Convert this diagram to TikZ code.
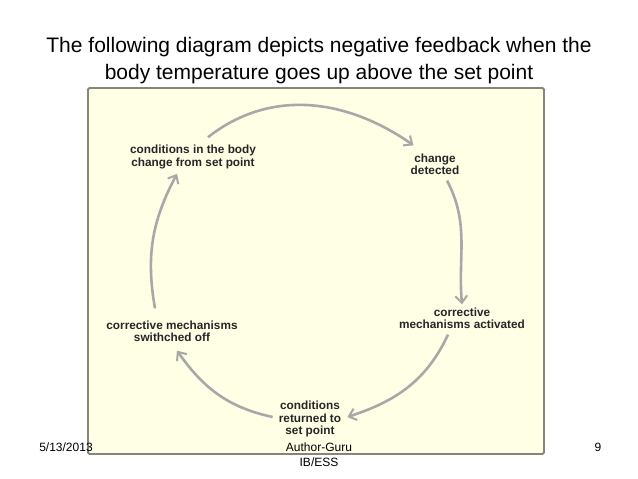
\documentclass[tikz,border=0pt]{standalone}
\usepackage{fontspec}
\setmainfont{Liberation Sans}
\usetikzlibrary{arrows.meta}
\definecolor{PanelFill}{HTML}{FFFFE6}
\definecolor{PanelEdge}{HTML}{85857A}
\definecolor{LoopGrey}{HTML}{A8A8A8}
\tikzset{
  stage/.style={align=center,inner sep=4pt,font=\fontsize{11.8}{12.2}\selectfont\bfseries,text=black!85},
  flow/.style={LoopGrey,line width=2.6pt,-{Straight Barb[length=7pt,width=12pt,line width=2pt]}},
  foot/.style={font=\fontsize{12}{15}\selectfont,inner sep=0pt}
}

\begin{document}
\begin{tikzpicture}[x=1pt,y=1pt]
  \useasboundingbox (0,0) rectangle (638,479);
  \node[align=center,font=\fontsize{21}{27}\selectfont] (title) at (319,418)
    {The following diagram depicts negative feedback when the\\body temperature goes up above the set point};
  \draw[PanelEdge,line width=1.8pt,fill=PanelFill,rounded corners=1.5pt] (88,25) rectangle (544,391);
  \node[stage] (chg) at (193,322) {conditions in the body\\change from set point};
  \node[stage] (det) at (435,315) {change\\detected};
  \node[stage] (act) at (462,161) {corrective\\mechanisms activated};
  \node[stage] (ret) at (310,60) {conditions\\returned to\\set point};
  \node[stage] (off) at (172,148) {corrective mechanisms\\swithched off};
  \draw[flow] ([xshift=15pt,yshift=4pt]chg.north) to[out=38,in=145] ([xshift=7pt,yshift=4pt]det.north west);
  \draw[flow] ([xshift=12pt,yshift=-2pt]det.south) to[out=-62,in=95] ([yshift=-1pt]act.north);
  \draw[flow] ([xshift=-14pt,yshift=-2pt]act.south) to[out=-115,in=18] ([xshift=2pt,yshift=2pt]ret.east);
  \draw[flow] ([xshift=-2pt,yshift=2pt]ret.west) to[out=168,in=-55] ([xshift=5pt,yshift=-5pt]off.south);
  \draw[flow] ([xshift=-17pt,yshift=8pt]off.north) to[out=100,in=-118] ([xshift=-16pt,yshift=-1pt]chg.south);
  \node[foot] (date) at (66,32) {5/13/2013};
  \node[foot,align=center] (auth) at (319,24.5) {Author-Guru\\IB/ESS};
  \node[foot] (page) at (598,32) {9};
\end{tikzpicture}
\end{document}
